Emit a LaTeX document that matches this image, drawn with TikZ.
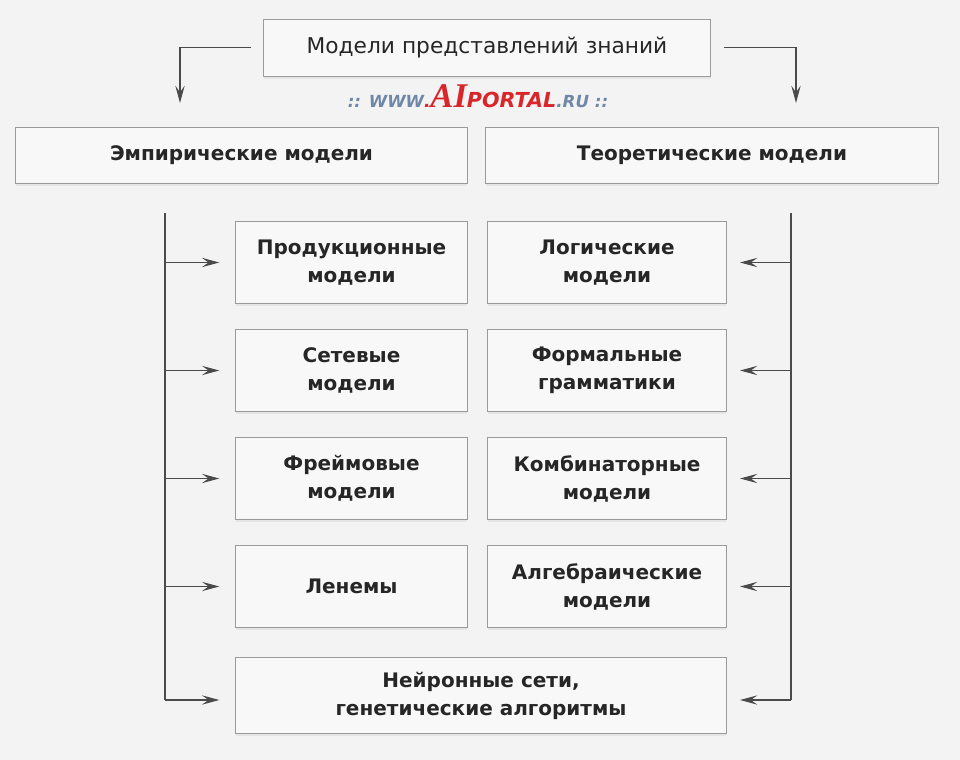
\documentclass[tikz,border=0pt]{standalone}
\usepackage{fontspec}
\setmainfont{DejaVu Sans}
\newfontfamily\aiserif{Liberation Serif}
\usetikzlibrary{arrows.meta,shadows,calc}
\definecolor{bg}{HTML}{F3F3F3}
\definecolor{boxfill}{HTML}{F8F8F8}
\definecolor{boxdraw}{HTML}{9A9A9A}
\definecolor{linec}{HTML}{4A4A4A}
\definecolor{wmblue}{HTML}{7088A8}
\definecolor{wmred}{HTML}{D8262B}
\tikzset{
  mbox/.style={draw=boxdraw, fill=boxfill, line width=0.6pt, align=center,
    font=\bfseries\fontsize{15}{21}\selectfont, text=black!85,
    drop shadow={shadow xshift=0pt, shadow yshift=-2pt, opacity=0.12}},
  conn/.style={draw=linec, line width=0.8pt},
  arr/.style={conn, -{Stealth[length=13pt,width=7pt,inset=5pt]}}
}
\begin{document}
\begin{tikzpicture}[x=0.75pt,y=-0.75pt]
\fill[bg] (0,0) rectangle (960,760);
\useasboundingbox (0,0) rectangle (960,760);
% boxes
\newcommand{\mbx}[6]{\node[mbox, minimum width=#4*0.75pt-1pt, minimum height=#5*0.75pt-1pt, inner sep=0pt] (#1) at ({(#2+#4/2)},{(#3+#5/2)}) {#6};}
\node[mbox, font=\fontsize{16.3}{20}\selectfont, minimum width=447*0.75pt, minimum height=57*0.75pt, inner sep=0pt] (top) at (487,47.5) {Модели представлений знаний};
\mbx{emp}{15}{127}{453}{57}{Эмпирические модели}
\mbx{teo}{485}{127}{454}{57}{Теоретические модели}
\mbx{l1}{235}{221}{233}{83}{Продукционные\\модели}
\mbx{l2}{235}{329}{233}{83}{Сетевые\\модели}
\mbx{l3}{235}{437}{233}{83}{Фреймовые\\модели}
\mbx{l4}{235}{545}{233}{83}{Ленемы}
\mbx{r1}{487}{221}{240}{83}{Логические\\модели}
\mbx{r2}{487}{329}{240}{83}{Формальные\\грамматики}
\mbx{r3}{487}{437}{240}{83}{Комбинаторные\\модели}
\mbx{r4}{487}{545}{240}{83}{Алгебраические\\модели}
\mbx{nn}{235}{657}{492}{77}{Нейронные сети,\\генетические алгоритмы}
% watermark
\node[anchor=base, inner sep=0pt] (wm) at (478,107.5) {\itshape\bfseries\fontsize{12.5}{13}\selectfont\color{wmblue}:: WWW\textcolor{wmred}{.}{\color{wmred}\aiserif\fontsize{26}{26}\selectfont AI}{\color{wmred}\fontsize{15.5}{15}\selectfont PORTAL}.RU ::};
% top connectors
\coordinate (tl) at (180,103);
\coordinate (tr) at (796,103);
\draw[arr] ([xshift=-9pt]top.west) -| (tl);
\draw[arr] ([xshift=10pt]top.east) -| (tr);
% left bus
\coordinate (lb0) at (165,213);
\coordinate (lb5) at (165,700);
\draw[conn] (lb0) -- (lb5);
\foreach \n in {l1,l2,l3,l4} {\draw[arr] (lb0 |- \n.west) -- ([xshift=-12pt]\n.west);}
\draw[arr] (lb5) -- ([xshift=-12pt]nn.west |- lb5);
% right bus
\coordinate (rb0) at (791,213);
\coordinate (rb5) at (791,700);
\draw[conn] (rb0) -- (rb5);
\foreach \n in {r1,r2,r3,r4} {\draw[arr] (rb0 |- \n.east) -- ([xshift=10pt]\n.east);}
\draw[arr] (rb5) -- ([xshift=10pt]nn.east |- rb5);
\end{tikzpicture}
\end{document}
